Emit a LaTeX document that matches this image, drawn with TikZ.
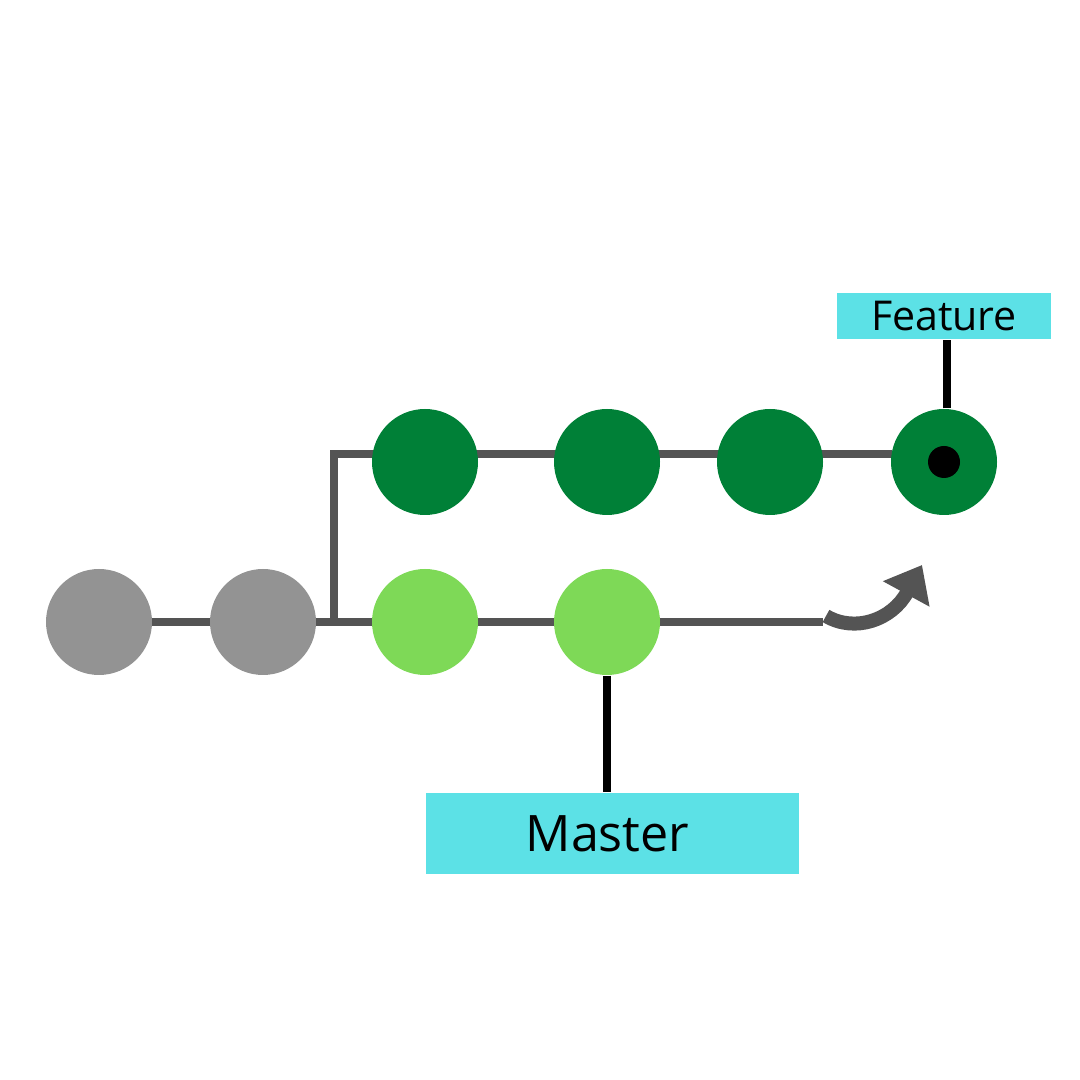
\documentclass[tikz,border=0pt]{standalone}
\usepackage{fontspec}
\setmainfont{Open Sans}
\usetikzlibrary{arrows.meta,backgrounds}
\definecolor{oldgray}{HTML}{939393}
\definecolor{mastergreen}{HTML}{7ED957}
\definecolor{featgreen}{HTML}{008037}
\definecolor{linegray}{HTML}{545454}
\definecolor{labelcyan}{HTML}{5CE1E6}
\tikzset{
    commit/.style={circle,minimum size=1.06cm,inner sep=0pt},
    label box/.style={fill=labelcyan,inner sep=0pt},
    branch line/.style={linegray,line width=0.08cm},
    pointer/.style={black,line width=0.08cm}
}
\begin{document}
\begin{tikzpicture}
        \useasboundingbox (0,0) rectangle (10.8,10.8);
        % commits
        \node[commit,fill=oldgray] (c1) at (0.99,4.58) {};
        \node[commit,fill=oldgray] (c2) at (2.63,4.58) {};
        \node[commit,fill=mastergreen] (c3) at (4.25,4.58) {};
        \node[commit,fill=mastergreen] (c4) at (6.07,4.58) {};
        \node[commit,fill=featgreen] (d1) at (4.25,6.18) {};
        \node[commit,fill=featgreen] (d2) at (6.07,6.18) {};
        \node[commit,fill=featgreen] (d3) at (7.70,6.18) {};
        \node[commit,fill=featgreen] (d4) at (9.44,6.18) {};
        \node[circle,fill=black,minimum size=0.32cm,inner sep=0pt] (head) at (d4) {};
        \coordinate (fork) at (3.34,4.58);
        \coordinate (mend) at (8.23,4.58);
        \coordinate (fend) at (8.92,6.26);
        \begin{pgfonlayer}{background}
            \draw[branch line] (c1.center) -- (c2.center) -- (c3.center) -- (c4.center) -- (mend);
            \draw[branch line] (fork) |- (fend);
        \end{pgfonlayer}
        % labels
        \node[label box,minimum width=2.14cm,minimum height=0.46cm,font=\fontsize{11.7pt}{14pt}\selectfont] (feat) at (9.44,7.64) {Feature};
        \node[label box,minimum width=3.73cm,minimum height=0.81cm,font=\fontsize{14.3pt}{17pt}\selectfont] (master) at (6.125,2.465) {\hspace*{-0.1cm}Master};
        \draw[pointer] ([xshift=0.03cm]d4.north) -- ([xshift=0.03cm]d4.north |- feat.south);
        \draw[pointer] (c4.south) -- (c4.south |- master.north);
        % merge arrow
        \draw[linegray,line width=0.14cm,-{Triangle[length=0.33cm,width=0.51cm]}] (8.26,4.64) .. controls (8.55,4.47) and (8.92,4.6) .. (9.22,5.15);
    \end{tikzpicture}
\end{document}
